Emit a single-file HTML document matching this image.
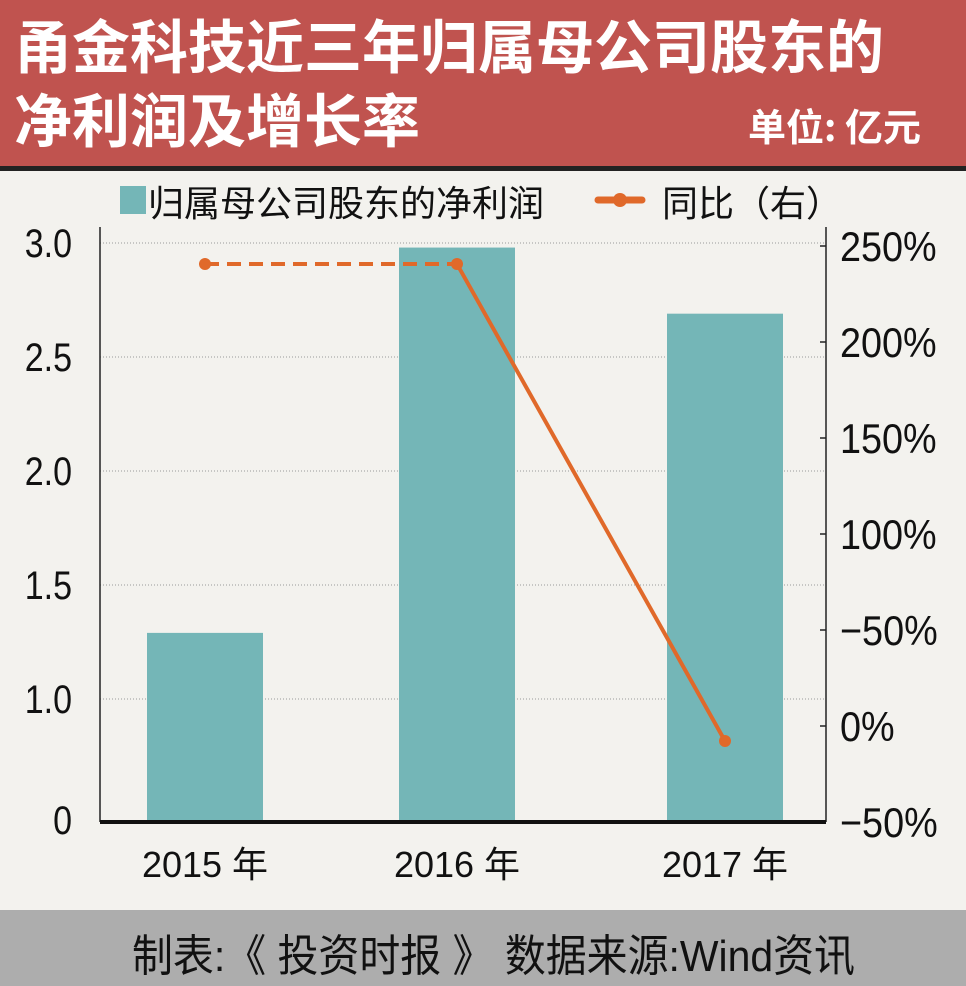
<!DOCTYPE html>
<html><head><meta charset="utf-8"><style>
body{margin:0;width:966px;height:986px;overflow:hidden;background:#f3f2ee;font-family:"Liberation Sans","Noto Sans CJK SC",sans-serif;}
#hdr{position:absolute;left:0;top:0;width:966px;height:166px;background:#c0534f;border-bottom:5px solid #222;}
.t{position:absolute;color:#fff;font-weight:bold;font-size:58px;line-height:1;white-space:nowrap;font-family:"Noto Sans CJK SC",sans-serif;transform-origin:0 0;}
#ftr{position:absolute;left:0;top:910px;width:966px;height:76px;background:#adadad;}
svg{position:absolute;left:0;top:0}
svg text{font-family:"Liberation Sans","Noto Sans CJK SC",sans-serif;fill:#111}
</style></head><body>
<div id="hdr">
<div class="t" style="left:14px;top:14px;">甬金科技近三年归属母公司股东的</div>
<div class="t" style="left:14px;top:88px">净利润及增长率</div>
<div class="t" style="left:748px;top:106px;font-size:38px;">单位: 亿元</div>
</div>
<div id="ftr">
<div style="position:absolute;left:132px;top:10px;font-size:44px;color:#111;white-space:nowrap;transform:scaleX(0.93);transform-origin:0 0;font-family:'Liberation Sans','Noto Sans CJK SC',sans-serif;">制表:《 投资时报 》 数据来源:Wind资讯</div>
</div>
<svg id="c" width="966" height="910"></svg>
<script>
const categories=["2015 年","2016 年","2017 年"];
const profit=[1.29,2.98,2.69];
const growth=[240.6,240.6,-7.8];
const leftTicks=[3.0,2.5,2.0,1.5,1.0];
const leftTickLabels=["3.0","2.5","2.0","1.5","1.0"];
const rightTicks=[250,200,150,100,50,0,-50];
const rightTickLabels=["250%","200%","150%","100%","\u221250%","0%","\u221250%"];
const NS="http://www.w3.org/2000/svg";
const svg=document.getElementById('c');
function mk(t,a,txt){const e=document.createElementNS(NS,t);for(const k in a)e.setAttribute(k,a[k]);if(txt!=null)e.textContent=txt;svg.appendChild(e);return e;}
const L=100,R=826,B=822;
const yL=v=>243+(3.0-v)*228;
const yR=v=>726-v*96/50;
const xC=i=>[205,457,725][i];
leftTicks.forEach((v,i)=>{
 let g=mk('line',{x1:L,x2:R,y1:yL(v),y2:yL(v),stroke:'#999','stroke-width':1,'stroke-dasharray':'1,2'});
 
 let t=mk('text',{x:72,y:yL(v)+14,'font-size':40,'text-anchor':'end',transform:`translate(72,0) scale(0.85,1) translate(-72,0)`},leftTickLabels[i]);
 
});
let z=mk('text',{x:72,y:B+12,'font-size':40,'text-anchor':'end',transform:`translate(72,0) scale(0.85,1) translate(-72,0)`},"0");

rightTicks.forEach((v,i)=>{
 let tk=mk('line',{x1:R-6,x2:R,y1:yR(v),y2:yR(v),stroke:'#222','stroke-width':1.5});
 
 let t=mk('text',{x:840,y:yR(v)+15,'font-size':42,transform:`translate(840,0) scale(0.9,1) translate(-840,0)`},rightTickLabels[i]);
 
});
profit.forEach((v,i)=>{
 let b=mk('rect',{x:xC(i)-58,y:yL(v),width:116,height:B-yL(v),fill:'#74b6b7'});
 
 let t=mk('text',{x:xC(i),y:877,'font-size':36,'text-anchor':'middle'},categories[i]);
 
});
let a1=mk('line',{x1:L,x2:L,y1:227,y2:B,stroke:'#222','stroke-width':1.5});
let a2=mk('line',{x1:R,x2:R,y1:227,y2:B,stroke:'#222','stroke-width':1.5});
let a3=mk('line',{x1:L,x2:R,y1:B,y2:B,stroke:'#111','stroke-width':4});
let d1=mk('line',{x1:xC(0),y1:yR(growth[0]),x2:xC(1),y2:yR(growth[1]),stroke:'#e0692a','stroke-width':4,'stroke-dasharray':'14,8'});

let d2=mk('line',{x1:xC(1),y1:yR(growth[1]),x2:xC(2),y2:yR(growth[2]),stroke:'#e0692a','stroke-width':4});

growth.forEach((v,i)=>{let p=mk('circle',{cx:xC(i),cy:yR(v),r:6,fill:'#e0692a'});});
let ls=mk('rect',{x:120,y:186,width:26,height:28,fill:'#74b6b7'});
let lt=mk('text',{x:148,y:216,'font-size':36},"归属母公司股东的净利润");
let ll=mk('line',{x1:598,x2:642,y1:200,y2:200,stroke:'#e0692a','stroke-width':7,'stroke-linecap':'round'});
let lc=mk('circle',{cx:620,cy:200,r:7,fill:'#e0692a'});
let lt2=mk('text',{x:662,y:216,'font-size':36},"同比（右）");
</script>
</body></html>
